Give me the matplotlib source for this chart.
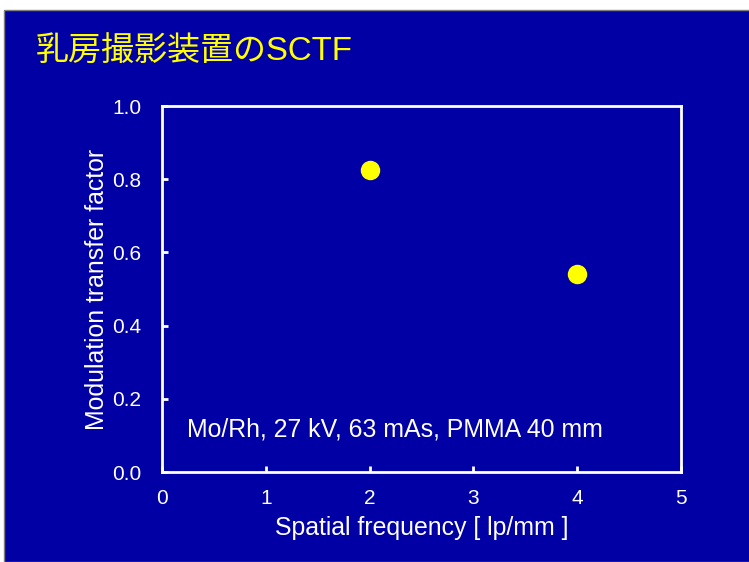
import matplotlib.pyplot as plt
from matplotlib.patches import Rectangle

plt.rcParams['font.family'] = ['Liberation Sans', 'Noto Sans CJK JP', 'DejaVu Sans']

freq = [2, 4]
mtf = [0.825, 0.54]
xticks = [0, 1, 2, 3, 4, 5]
yticks = [0.0, 0.2, 0.4, 0.6, 0.8, 1.0]

bg = '#0000a5'
fig = plt.figure(figsize=(7.49, 5.62), dpi=100, facecolor='white')
fig.patches.append(Rectangle((4 / 749, 0), 1, 1 - 10 / 562, transform=fig.transFigure,
                             facecolor=bg, edgecolor='#808080', linewidth=1, zorder=-5))

ax = fig.add_axes([162 / 749, 1 - 472 / 562, 519 / 749, 366 / 562])
ax.set_zorder(2)
ax.set_facecolor(bg)
ax.plot(freq, mtf, 'o', color='#ffff00', markersize=13, clip_on=False)

ax.set_xlim(0, 5)
ax.set_ylim(0, 1)
ax.set_xticks(xticks)
ax.set_yticks(yticks)
ax.set_yticklabels([f'{v:.1f}' for v in yticks])
for s in ax.spines.values():
    s.set_color('white')
    s.set_linewidth(2)
ax.tick_params(direction='in', colors='white', width=2, length=4, labelsize=15)
ax.tick_params(axis='y', pad=15)
ax.tick_params(axis='x', pad=12)

ax.set_xlabel('Spatial frequency [ lp/mm ]', color='white', fontsize=17.9, labelpad=6)
ax.set_ylabel('Modulation transfer factor', color='white', fontsize=17.9, labelpad=2)
ax.text(0.24, 0.117, 'Mo/Rh, 27 kV, 63 mAs, PMMA 40 mm', color='white', fontsize=17.9,
        va='center', ha='left')

fig.text(36 / 749, 1 - 51 / 562, '乳房撮影装置のSCTF', color='#ffff00', fontsize=23.8,
         va='center', ha='left', zorder=3)

plt.savefig('out.png', dpi=100, facecolor=fig.get_facecolor())
